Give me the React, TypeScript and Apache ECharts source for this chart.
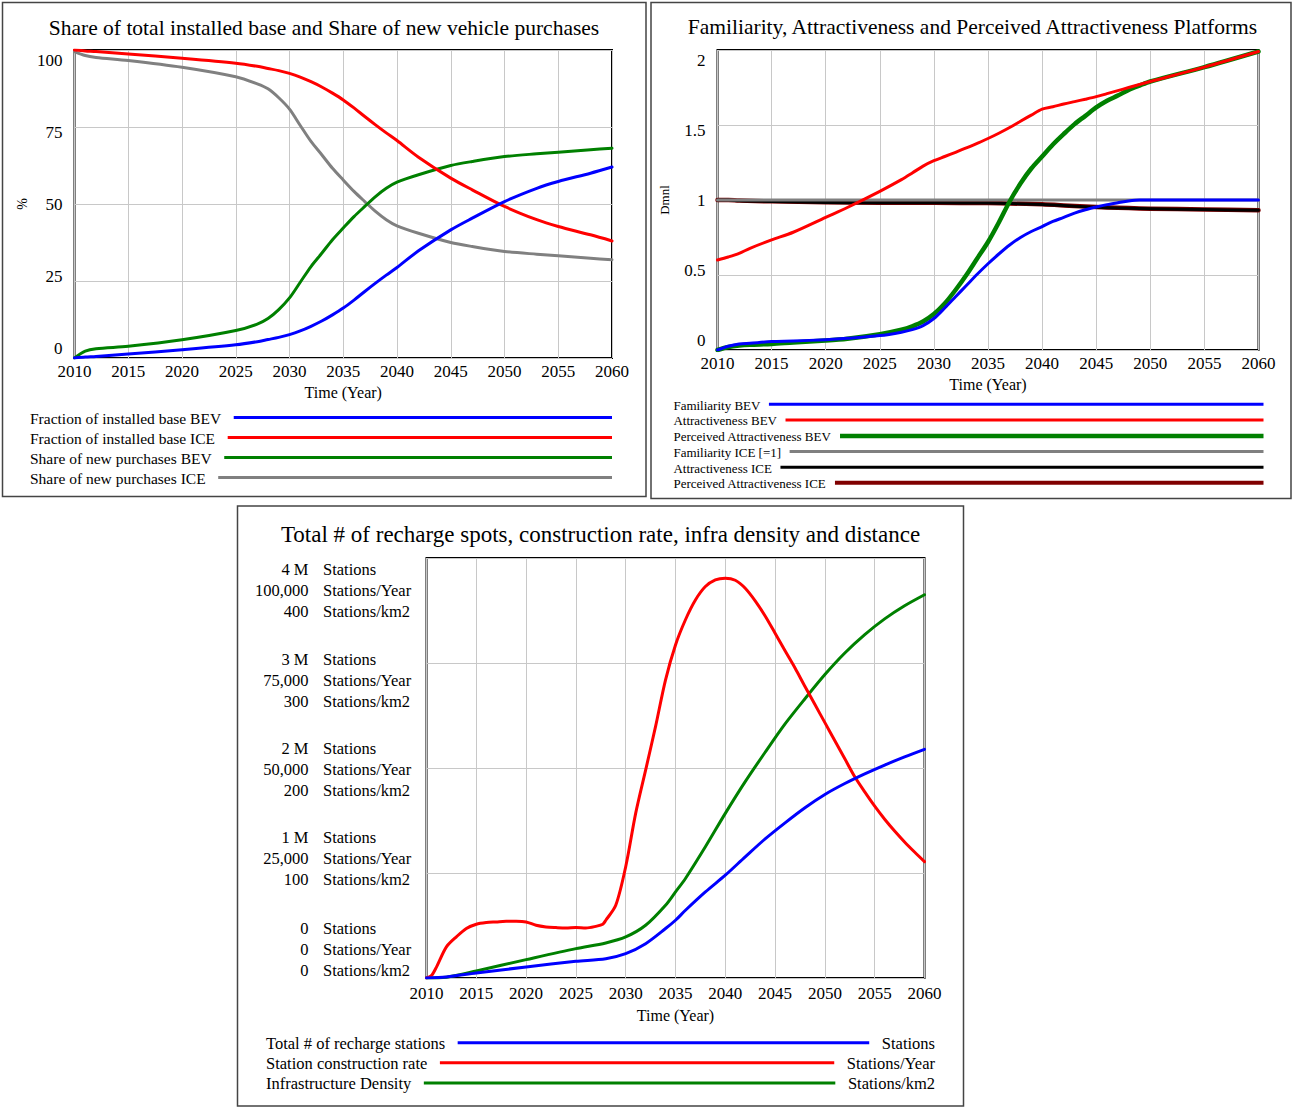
import React, { useEffect, useRef } from "react";
import * as echarts from "echarts";

const SERIF = "'Liberation Serif', 'Times New Roman', Times, serif";
const GRID_LINE = "#c8c8c8";

// ---------------- Panel 1 : shares (%) ----------------
const P1_TITLE = "Share of total installed base and Share of new vehicle purchases";
const P1_YEARS = [2010, 2011, 2012, 2015, 2020, 2025, 2027, 2028, 2029, 2030, 2031, 2032, 2033, 2034, 2035, 2036, 2037, 2038, 2039, 2040, 2042, 2045, 2047, 2050, 2053, 2055, 2058, 2060];
const FRACTION_BEV = [0, 0.3, 0.5, 1.3, 2.7, 4.3, 5.3, 6.0, 6.7, 7.6, 8.8, 10.3, 12.0, 14.0, 16.2, 18.8, 21.6, 24.3, 26.9, 29.4, 34.8, 41.6, 45.4, 50.8, 55.1, 57.3, 60.0, 62.0];
const FRACTION_ICE = [100, 99.7, 99.5, 98.7, 97.3, 95.7, 94.7, 94.0, 93.3, 92.4, 91.2, 89.7, 88.0, 86.0, 83.8, 81.2, 78.4, 75.7, 73.1, 70.6, 65.2, 58.4, 54.6, 49.2, 44.9, 42.7, 40.0, 38.0];
const SHARE_BEV = [0, 2.2, 3.0, 3.8, 5.9, 8.9, 11.0, 12.8, 15.7, 19.5, 24.6, 29.7, 34.0, 38.4, 42.2, 45.9, 49.2, 52.4, 55.1, 57.1, 59.5, 62.5, 63.8, 65.4, 66.3, 66.8, 67.6, 68.1];
const SHARE_ICE = [99.5, 98.2, 97.6, 96.6, 94.4, 91.3, 89.0, 87.4, 84.5, 80.8, 75.5, 70.3, 66.0, 61.6, 57.8, 54.1, 50.8, 47.6, 44.9, 42.9, 40.5, 37.5, 36.2, 34.6, 33.7, 33.2, 32.4, 31.9];
const P1_NAMES = ["Fraction of installed base BEV", "Fraction of installed base ICE", "Share of new purchases BEV", "Share of new purchases ICE"];

// ---------------- Panel 2 : familiarity / attractiveness (Dmnl) ----------------
const P2_TITLE = "Familiarity, Attractiveness and Perceived Attractiveness Platforms";
const P2_YEARS = [2010, 2011, 2012, 2013, 2015, 2017, 2020, 2022, 2025, 2027, 2028, 2029, 2030, 2031, 2032, 2033, 2034, 2035, 2036, 2037, 2038, 2039, 2040, 2041, 2042, 2043, 2044, 2045, 2046, 2047, 2048, 2049, 2050, 2055, 2060];
const FAMILIARITY_BEV = [0, 0.025, 0.04, 0.045, 0.056, 0.06, 0.069, 0.078, 0.096, 0.119, 0.136, 0.163, 0.21, 0.28, 0.355, 0.43, 0.505, 0.575, 0.64, 0.7, 0.75, 0.79, 0.823, 0.857, 0.884, 0.913, 0.935, 0.953, 0.969, 0.982, 0.994, 1.0, 1.0, 1.0, 1.0];
const ATTRACT_BEV = [0.6, 0.62, 0.644, 0.678, 0.734, 0.785, 0.884, 0.95, 1.058, 1.136, 1.18, 1.226, 1.262, 1.29, 1.318, 1.347, 1.378, 1.41, 1.445, 1.483, 1.525, 1.566, 1.606, 1.622, 1.64, 1.656, 1.672, 1.689, 1.709, 1.729, 1.75, 1.77, 1.79, 1.886, 1.99];
const PERCEIVED_BEV = [0, 0.02, 0.03, 0.035, 0.04, 0.05, 0.063, 0.075, 0.105, 0.135, 0.158, 0.19, 0.24, 0.31, 0.4, 0.5, 0.61, 0.72, 0.85, 0.99, 1.11, 1.21, 1.29, 1.37, 1.44, 1.506, 1.561, 1.617, 1.662, 1.696, 1.734, 1.763, 1.79, 1.886, 1.99];
const FAMILIARITY_ICE_YEARS = [2010, 2060];
const FAMILIARITY_ICE = [1, 1];
const ICE_YEARS = [2010, 2011, 2012, 2015, 2020, 2025, 2030, 2035, 2037, 2040, 2042, 2044, 2046, 2048, 2050, 2055, 2060];
const ATTRACT_ICE = [1.0, 1.0, 0.995, 0.99, 0.984, 0.981, 0.981, 0.98, 0.977, 0.97, 0.963, 0.955, 0.949, 0.945, 0.941, 0.936, 0.931];
const PERCEIVED_ICE = [1.0, 1.0, 0.996, 0.991, 0.985, 0.982, 0.981, 0.98, 0.977, 0.971, 0.964, 0.956, 0.95, 0.946, 0.942, 0.937, 0.932];
const P2_NAMES = ["Familiarity BEV", "Attractiveness BEV", "Perceived Attractiveness BEV", "Familiarity ICE [=1]", "Attractiveness ICE", "Perceived Attractiveness ICE"];

// ---------------- Panel 3 : recharge infrastructure ----------------
const P3_TITLE = "Total # of recharge spots, construction rate, infra density and distance";
const P3_STOCK_YEARS = [2010, 2012, 2015, 2020, 2025, 2028, 2030, 2032, 2034, 2035, 2036, 2038, 2040, 2042, 2044, 2046, 2048, 2050, 2052, 2054, 2056, 2058, 2060];
const TOTAL_STATIONS = [0, 9600, 47700, 105000, 159000, 184000, 232000, 327000, 471000, 550000, 645000, 820000, 979000, 1154000, 1325000, 1478000, 1622000, 1748000, 1852000, 1944000, 2028000, 2106000, 2178000];
const INFRA_DENSITY = [0, 0.8, 6.7, 17.5, 28, 33.4, 39.1, 50.2, 69.3, 82, 94.8, 125, 156.8, 187, 215, 242, 266, 289, 309.5, 327, 342, 354.5, 365];
const P3_RATE_YEARS = [2010, 2010.5, 2011, 2012, 2013, 2014, 2015, 2016, 2017, 2018, 2019, 2020, 2021, 2022, 2023, 2024, 2025, 2026, 2027, 2027.7, 2028, 2029, 2030, 2031, 2032, 2033, 2034, 2035, 2036, 2037, 2038, 2039, 2040, 2041, 2042, 2043, 2044, 2045, 2046, 2047, 2048, 2049, 2050, 2051, 2052, 2053, 2054, 2055, 2056, 2057, 2058, 2059, 2060];
const CONSTRUCTION_RATE = [0, 600, 2600, 7400, 9800, 11800, 12800, 13200, 13350, 13500, 13500, 13350, 12560, 12160, 12000, 11900, 12000, 11900, 12300, 12800, 13750, 17300, 26500, 39200, 49500, 59900, 71000, 79300, 85300, 90000, 93200, 94800, 95200, 94700, 92800, 89800, 86200, 82100, 77900, 73800, 69400, 65100, 60800, 56500, 52200, 47900, 44300, 40900, 37800, 35000, 32400, 30000, 27700];
const P3_STATION_TICKS = ["0", "1 M", "2 M", "3 M", "4 M"];
const P3_RATE_TICKS = ["0", "25,000", "50,000", "75,000", "100,000"];
const P3_DENSITY_TICKS = ["0", "100", "200", "300", "400"];
const P3_UNITS = ["Stations", "Stations/Year", "Stations/km2"];
const P3_NAMES = ["Total # of recharge stations", "Station construction rate", "Infrastructure Density"];

// ---------------- styling / layout constants ----------------
const BLUE = "#0000ff";
const RED = "#ff0000";
const GREEN = "#008000";
const GREY = "#808080";
const BLACK = "#000000";
const DARKRED = "#800000";

const P1_SHIFTS = [-10, -5, 0, 5, 10];
const P2_SHIFTS = [-10, -5, 0, 5, 10];
const P3_SHIFTS = [-29, -15, 1, 17, 32.5];

function zip(xs: number[], ys: number[]): number[][] {
  return xs.map((x, i) => [x, ys[i]]);
}

function shiftedRich(shifts: number[], nLines: number, base: Record<string, unknown>) {
  const rich: Record<string, unknown> = {};
  shifts.forEach((d, i) => {
    for (let k = 0; k < nLines; k++) {
      const top = k === 0 && d > 0 ? 2 * d : 0;
      const bottom = k === nLines - 1 && d < 0 ? -2 * d : 0;
      rich[`s${i}_${k}`] = { ...base, padding: [top, 0, bottom, 0] };
    }
  });
  return rich;
}

function richLines(i: number, lines: string[]) {
  return lines.map((t, k) => `{s${i}_${k}|${t}}`).join("\n");
}

let measureCtx: CanvasRenderingContext2D | null = null;
function textWidth(text: string, size: number) {
  if (!measureCtx) measureCtx = document.createElement("canvas").getContext("2d");
  measureCtx!.font = `${size}px ${SERIF}`;
  return measureCtx!.measureText(text).width;
}

function timeAxis(gridIndex: number, margin: number, nameGap: number) {
  return {
    type: "value",
    gridIndex,
    min: 2010,
    max: 2060,
    interval: 5,
    axisLine: { show: false },
    axisTick: { show: false },
    splitLine: { show: true, lineStyle: { color: GRID_LINE, width: 1 } },
    axisLabel: { color: "#000", fontFamily: SERIF, fontSize: 17, margin, formatter: (v: number) => String(v) },
    name: "Time (Year)",
    nameLocation: "middle",
    nameGap,
    nameTextStyle: { color: "#000", fontFamily: SERIF, fontSize: 16 },
  };
}

function lineSeries(name: string, data: number[][], color: string, width: number, xAxisIndex: number, yAxisIndex: number) {
  return {
    type: "line",
    name,
    data,
    xAxisIndex,
    yAxisIndex,
    symbol: "none",
    showSymbol: false,
    smooth: 0.3,
    lineStyle: { color, width, join: "round", cap: "round" },
    itemStyle: { color },
    silent: true,
    emphasis: { disabled: true },
  };
}

function legendGraphics(
  names: string[],
  colors: string[],
  widths: number[],
  x: number,
  ys: number[],
  fontSize: number,
  gap: number,
  xEnd: number,
  units?: string[],
) {
  const els: any[] = [];
  names.forEach((name, i) => {
    const w = textWidth(name, fontSize);
    let end = xEnd;
    if (units) {
      const uw = textWidth(units[i], fontSize);
      end = xEnd - uw - gap;
      els.push({
        type: "text",
        x: xEnd,
        y: ys[i],
        silent: true,
        style: { text: units[i], fontFamily: SERIF, fontSize, fill: "#000", align: "right", verticalAlign: "middle" },
      });
    }
    els.push({
      type: "text",
      x,
      y: ys[i],
      silent: true,
      style: { text: name, fontFamily: SERIF, fontSize, fill: "#000", align: "left", verticalAlign: "middle" },
    });
    els.push({
      type: "line",
      silent: true,
      shape: { x1: x + w + gap, y1: ys[i] - 0.8, x2: end, y2: ys[i] - 0.8 },
      style: { stroke: colors[i], lineWidth: widths[i] },
    });
  });
  return els;
}

function buildOption() {
  const labelBase = { color: "#000", fontFamily: SERIF, fontSize: 17 };
  const p3Base = { color: "#000", fontFamily: SERIF, fontSize: 16.5, height: 21 };
  const noAxis = { axisLine: { show: false }, axisTick: { show: false } };
  const split = { splitLine: { show: true, lineStyle: { color: GRID_LINE, width: 1 } } };

  const frames = [
    { x: 2.5, y: 2.5, width: 643.5, height: 494 },
    { x: 651, y: 2.5, width: 640, height: 496 },
    { x: 237.5, y: 506, width: 726, height: 600 },
  ].map((r) => ({
    type: "rect",
    silent: true,
    shape: r,
    style: { fill: "none", stroke: "#444", lineWidth: 1.5 },
  }));

  const titles = [
    { t: P1_TITLE, x: 324, y: 27.5, s: 21.5 },
    { t: P2_TITLE, x: 972.5, y: 26.7, s: 21.5 },
    { t: P3_TITLE, x: 600.5, y: 534, s: 23 },
  ].map((o) => ({
    type: "text",
    x: o.x,
    y: o.y,
    silent: true,
    style: { text: o.t, fontFamily: SERIF, fontSize: o.s, fill: "#000", align: "center", verticalAlign: "middle" },
  }));

  const legends = [
    ...legendGraphics(P1_NAMES, [BLUE, RED, GREEN, GREY], [3, 3, 3, 3], 30, [418.3, 438.3, 458.3, 478.3], 15.5, 12.6, 612),
    ...legendGraphics(P2_NAMES, [BLUE, RED, GREEN, GREY, BLACK, DARKRED], [3, 3, 4.5, 3, 3, 4], 673.4, [405, 420.7, 436.7, 452.3, 468, 483.6], 13, 8.5, 1263.5),
    ...legendGraphics(P3_NAMES, [BLUE, RED, GREEN], [3, 3, 3], 266, [1043.5, 1063.5, 1083.8], 16.5, 12.6, 935, P3_UNITS),
  ];

  return {
    animation: false,
    backgroundColor: "#fff",
    textStyle: { fontFamily: SERIF },
    grid: [
      { left: 74.5, top: 50, width: 537.5, height: 308, show: true, borderColor: "#000", borderWidth: 2, backgroundColor: "transparent" },
      { left: 717.5, top: 50, width: 541, height: 300, show: true, borderColor: "#000", borderWidth: 2, backgroundColor: "transparent" },
      { left: 426.5, top: 558, width: 498, height: 420, show: true, borderColor: "#000", borderWidth: 2, backgroundColor: "transparent" },
    ],
    xAxis: [timeAxis(0, 5, 26), timeAxis(1, 5, 26), timeAxis(2, 7, 29)],
    yAxis: [
      {
        type: "value",
        gridIndex: 0,
        min: 0,
        max: 100,
        interval: 25,
        ...noAxis,
        ...split,
        axisLabel: {
          ...labelBase,
          margin: 12,
          formatter: (v: number, i: number) => richLines(i, [String(v)]),
          rich: shiftedRich(P1_SHIFTS, 1, labelBase),
        },
        name: "%",
        nameLocation: "middle",
        nameRotate: 90,
        nameGap: 45,
        nameTextStyle: { color: "#000", fontFamily: SERIF, fontSize: 14 },
      },
      {
        type: "value",
        gridIndex: 1,
        min: 0,
        max: 2,
        interval: 0.5,
        ...noAxis,
        ...split,
        axisLabel: {
          ...labelBase,
          margin: 12,
          formatter: (v: number, i: number) => richLines(i, [String(v)]),
          rich: shiftedRich(P2_SHIFTS, 1, labelBase),
        },
        name: "Dmnl",
        nameLocation: "middle",
        nameRotate: 90,
        nameGap: 47,
        nameTextStyle: { color: "#000", fontFamily: SERIF, fontSize: 13 },
      },
      {
        type: "value",
        gridIndex: 2,
        position: "left",
        min: 0,
        max: 4000000,
        interval: 1000000,
        ...noAxis,
        ...split,
        axisLabel: {
          ...labelBase,
          margin: 118,
          align: "right",
          formatter: (_v: number, i: number) => richLines(i, [P3_STATION_TICKS[i], P3_RATE_TICKS[i], P3_DENSITY_TICKS[i]]),
          rich: shiftedRich(P3_SHIFTS, 3, { ...p3Base, align: "right" }),
        },
      },
      {
        type: "value",
        gridIndex: 2,
        position: "left",
        offset: 0,
        min: 0,
        max: 100000,
        interval: 25000,
        ...noAxis,
        splitLine: { show: false },
        axisLabel: {
          ...labelBase,
          margin: 103.5,
          align: "left",
          formatter: (_v: number, i: number) => richLines(i, P3_UNITS),
          rich: shiftedRich(P3_SHIFTS, 3, { ...p3Base, align: "left" }),
        },
      },
      { type: "value", gridIndex: 2, show: false, min: 0, max: 400, interval: 100, splitLine: { show: false } },
    ],
    series: [
      // panel 1 (first legend entry drawn on top)
      lineSeries(P1_NAMES[3], zip(P1_YEARS, SHARE_ICE), GREY, 3, 0, 0),
      lineSeries(P1_NAMES[2], zip(P1_YEARS, SHARE_BEV), GREEN, 3, 0, 0),
      lineSeries(P1_NAMES[1], zip(P1_YEARS, FRACTION_ICE), RED, 3, 0, 0),
      lineSeries(P1_NAMES[0], zip(P1_YEARS, FRACTION_BEV), BLUE, 3, 0, 0),
      // panel 2
      lineSeries(P2_NAMES[5], zip(ICE_YEARS, PERCEIVED_ICE), DARKRED, 4.5, 1, 1),
      lineSeries(P2_NAMES[4], zip(ICE_YEARS, ATTRACT_ICE), BLACK, 3, 1, 1),
      lineSeries(P2_NAMES[3], zip(FAMILIARITY_ICE_YEARS, FAMILIARITY_ICE), GREY, 3, 1, 1),
      lineSeries(P2_NAMES[2], zip(P2_YEARS, PERCEIVED_BEV), GREEN, 4.5, 1, 1),
      lineSeries(P2_NAMES[1], zip(P2_YEARS, ATTRACT_BEV), RED, 3, 1, 1),
      lineSeries(P2_NAMES[0], zip(P2_YEARS, FAMILIARITY_BEV), BLUE, 3, 1, 1),
      // panel 3
      lineSeries(P3_NAMES[2], zip(P3_STOCK_YEARS, INFRA_DENSITY), GREEN, 3, 2, 4),
      lineSeries(P3_NAMES[1], zip(P3_RATE_YEARS, CONSTRUCTION_RATE), RED, 3, 2, 3),
      lineSeries(P3_NAMES[0], zip(P3_STOCK_YEARS, TOTAL_STATIONS), BLUE, 3, 2, 2),
    ],
    graphic: { elements: [...frames, ...titles, ...legends] },
  };
}

export default function App() {
  const ref = useRef<HTMLDivElement>(null);
  useEffect(() => {
    if (!ref.current) return;
    const chart = echarts.init(ref.current, null, { renderer: "svg" });
    chart.setOption(buildOption() as any);
    return () => chart.dispose();
  }, []);
  return (
    <div
      ref={ref}
      style={{ position: "absolute", left: 0, top: 0, width: 1293, height: 1109, background: "#fff" }}
    />
  );
}
